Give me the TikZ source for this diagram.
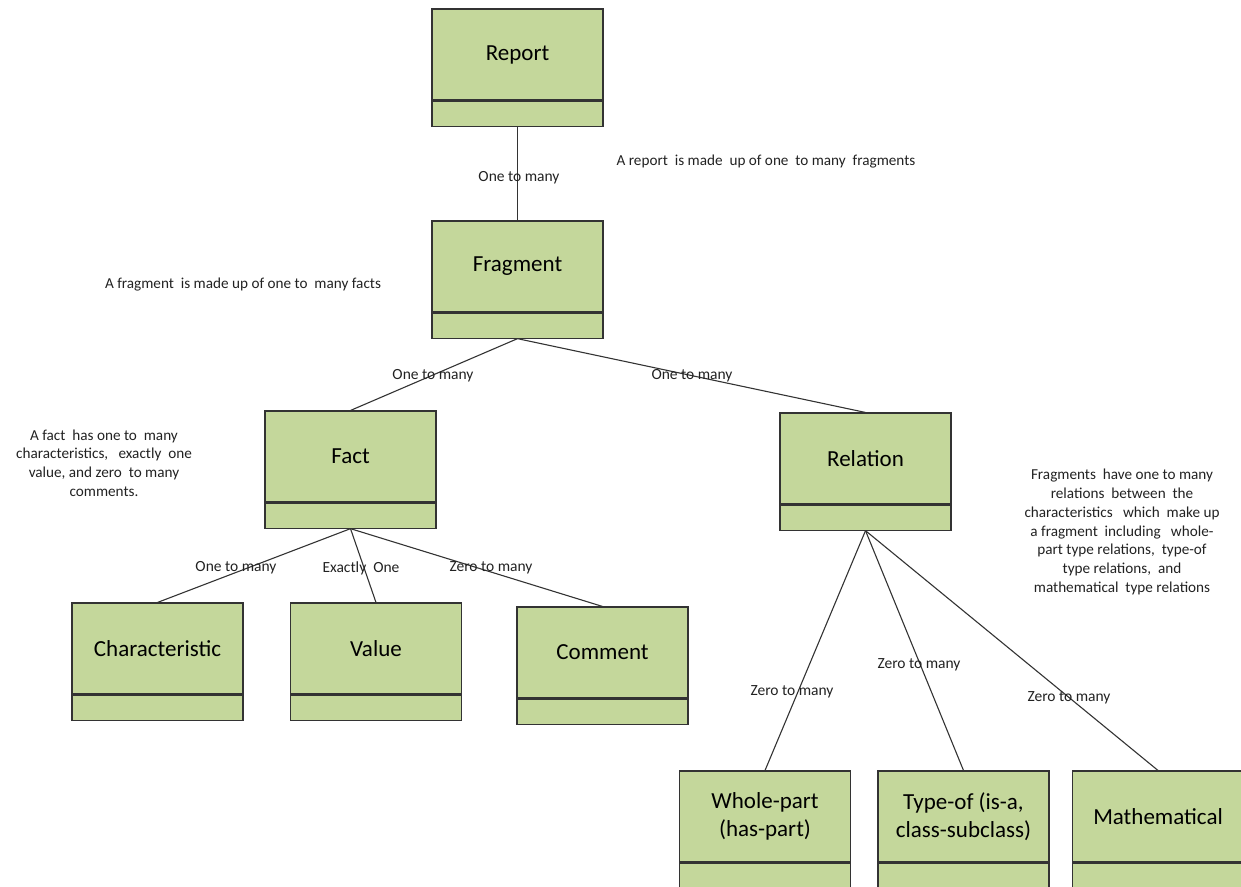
\documentclass[tikz,border=0pt]{standalone}
\usepackage{fontspec}
\setmainfont{Carlito}
\usetikzlibrary{positioning}
\definecolor{boxfill}{HTML}{C4D79B}
\definecolor{boxline}{HTML}{333333}
\definecolor{lbl}{HTML}{222222}
\tikzset{
  ctop/.style={draw=boxline, line width=1.1pt, fill=boxfill, minimum width=171pt, minimum height=91pt, inner sep=2pt, align=center, font=\fontsize{23}{28}\selectfont},
  cbot/.style={draw=boxline, line width=1.1pt, fill=boxfill, minimum width=171pt, minimum height=25pt, inner sep=0pt, below=0pt of #1},
  conn/.style={draw=boxline, line width=1.1pt},
  lab/.style={font=\fontsize{15.5}{18}\selectfont, text=lbl, inner sep=0pt},
  note/.style={font=\fontsize{15.2}{18.7}\selectfont, text=lbl, inner sep=0pt, align=center}
}
\begin{document}
\begin{tikzpicture}[x=1pt, y=-1pt]
\useasboundingbox (0,0) rectangle (1241,886);
% boxes
\node[ctop] (report) at (517.5,54.5) {Report};
\node[cbot=report] (report-b) {};
\node[ctop] (fragment) at (517.5,266.5) {Fragment};
\node[cbot=fragment] (fragment-b) {};
\node[ctop] (fact) at (350.5,456.5) {Fact};
\node[cbot=fact] (fact-b) {};
\node[ctop] (relation) at (865.5,458.5) {Relation};
\node[cbot=relation] (relation-b) {};
\node[ctop] (char) at (157.5,648.5) {Characteristic};
\node[cbot=char] (char-b) {};
\node[ctop] (value) at (376,648.5) {Value};
\node[cbot=value] (value-b) {};
\node[ctop] (comment) at (602.5,652.5) {Comment};
\node[cbot=comment] (comment-b) {};
\node[ctop] (whole) at (765,816.5) {Whole-part\\(has-part)};
\node[cbot=whole] (whole-b) {};
\node[ctop] (typeof) at (963.5,816.5) {Type-of (is-a,\\class-subclass)};
\node[cbot=typeof] (typeof-b) {};
\node[ctop] (math) at (1158,816.5) {Mathematical};
\node[cbot=math] (math-b) {};
% connectors
\draw[conn] (report-b.south) -- (fragment.north);
\draw[conn] (fragment-b.south) -- (fact.north);
\draw[conn] (fragment-b.south) -- (relation.north);
\draw[conn] (fact-b.south) -- (char.north);
\draw[conn] (fact-b.south) -- (value.north);
\draw[conn] (fact-b.south) -- (comment.north);
\draw[conn] (relation-b.south) -- (whole.north);
\draw[conn] (relation-b.south) -- (typeof.north);
\draw[conn] (relation-b.south) -- (math.north);
% connector labels
\node[lab] (l1) at (519,178) {One to many};
\node[lab] (l2) at (433,376) {One to many};
\node[lab] (l3) at (692,376) {One to many};
\node[lab] (l4) at (236,568) {One to many};
\node[lab] (l5) at (361,568) {Exactly\ \ One};
\node[lab] (l6) at (491,568) {Zero to many};
\node[lab] (l7) at (792,692) {Zero to many};
\node[lab] (l8) at (919,665) {Zero to many};
\node[lab] (l9) at (1069,698) {Zero to many};
% notes
\node[note] (n1) at (766,162) {A report\ \ is made\ \ up of one\ \ to many\ \ fragments};
\node[note] (n2) at (243,285) {A fragment\ \ is made up of one to\ \ many facts};
\node[note] (n3) at (104,463) {A fact\ \ has one to\ \ many\\characteristics,\ \ \ exactly\ \ one\\value, and zero\ \ to many\\comments.};
\node[note] (n4) at (1122,532) {Fragments\ \ have one to many\\relations\ \ between\ \ the\\characteristics\ \ \ which\ \ make up\\a fragment\ \ including\ \ \ whole-\\part type relations,\ \ type-of\\type relations,\ \ and\\mathematical\ \ type relations};
\end{tikzpicture}
\end{document}
